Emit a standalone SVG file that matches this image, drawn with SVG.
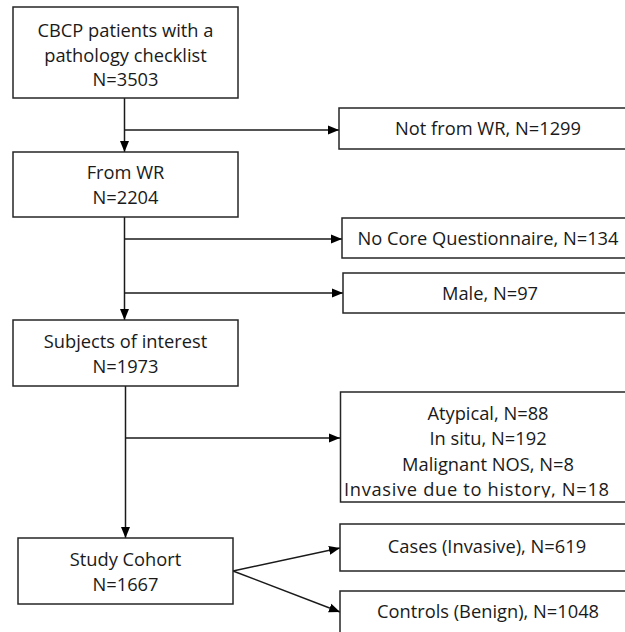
<svg xmlns="http://www.w3.org/2000/svg" width="625" height="632" viewBox="0 0 625 632">
<style>
.box{fill:#fff;stroke:#262626;stroke-width:1.5}
.t{font-family:"Open Sans","Liberation Sans",sans-serif;font-size:18.3px;fill:#1a1a1a;text-anchor:middle}
.c{fill:none;stroke:#1a1a1a;stroke-width:1.5}
</style>
<defs>
<marker id="arr" markerUnits="userSpaceOnUse" markerWidth="12" markerHeight="12" viewBox="0 0 12 12" refX="11" refY="6" orient="auto">
<path d="M0,1.5 L11,6 L0,10.5 Z" fill="#000"/>
</marker>
<clipPath id="clipInv"><rect x="330" y="380" width="300" height="117.5"/></clipPath>
</defs>
<rect width="625" height="632" fill="#fff"/>
<g id="connectors">
<path class="c" d="M124.5 98 V152" marker-end="url(#arr)"/>
<path class="c" d="M124.5 130 H339" marker-end="url(#arr)"/>
<path class="c" d="M124.5 217 V320" marker-end="url(#arr)"/>
<path class="c" d="M124.5 239 H342" marker-end="url(#arr)"/>
<path class="c" d="M124.5 293 H343" marker-end="url(#arr)"/>
<path class="c" d="M125.5 386 V538" marker-end="url(#arr)"/>
<path class="c" d="M125.5 438 H340" marker-end="url(#arr)"/>
<path class="c" d="M233 571 L340 548" marker-end="url(#arr)"/>
<path class="c" d="M233 571 L340 612" marker-end="url(#arr)"/>
</g>
<g id="n1">
<rect class="box" x="13" y="7" width="225" height="91"/>
<text class="t" x="125.5" y="37">CBCP patients with a</text>
<text class="t" x="125.5" y="61.5">pathology checklist</text>
<text class="t" x="125.5" y="86">N=3503</text>
</g>
<g id="n2">
<rect class="box" x="339" y="108" width="300" height="41"/>
<text class="t" x="488" y="135">Not from WR, N=1299</text>
</g>
<g id="n3">
<rect class="box" x="13" y="152" width="225" height="65"/>
<text class="t" x="125.5" y="179">From WR</text>
<text class="t" x="125.5" y="203.5">N=2204</text>
</g>
<g id="n4">
<rect class="box" x="342" y="218" width="300" height="40"/>
<text class="t" x="488" y="245">No Core Questionnaire, N=134</text>
</g>
<g id="n5">
<rect class="box" x="343" y="273" width="300" height="40"/>
<text class="t" x="490" y="300">Male, N=97</text>
</g>
<g id="n6">
<rect class="box" x="13" y="320" width="225" height="66"/>
<text class="t" x="125.5" y="348">Subjects of interest</text>
<text class="t" x="125.5" y="373">N=1973</text>
</g>
<g id="n7">
<rect class="box" x="340.5" y="392" width="300" height="110"/>
<text class="t" x="488" y="419.5">Atypical, N=88</text>
<text class="t" x="488" y="445">In situ, N=192</text>
<text class="t" x="488" y="470.5">Malignant NOS, N=8</text>
<text class="t" x="476.5" y="496" textLength="265" lengthAdjust="spacing" clip-path="url(#clipInv)">Invasive due to history, N=18</text>
</g>
<g id="n8">
<rect class="box" x="18" y="538" width="215" height="66"/>
<text class="t" x="125.5" y="566">Study Cohort</text>
<text class="t" x="125.5" y="591">N=1667</text>
</g>
<g id="n9">
<rect class="box" x="340" y="524" width="300" height="47"/>
<text class="t" x="487" y="553">Cases (Invasive), N=619</text>
</g>
<g id="n10">
<rect class="box" x="340" y="591" width="300" height="50"/>
<text class="t" x="488" y="618">Controls (Benign), N=1048</text>
</g>
</svg>
